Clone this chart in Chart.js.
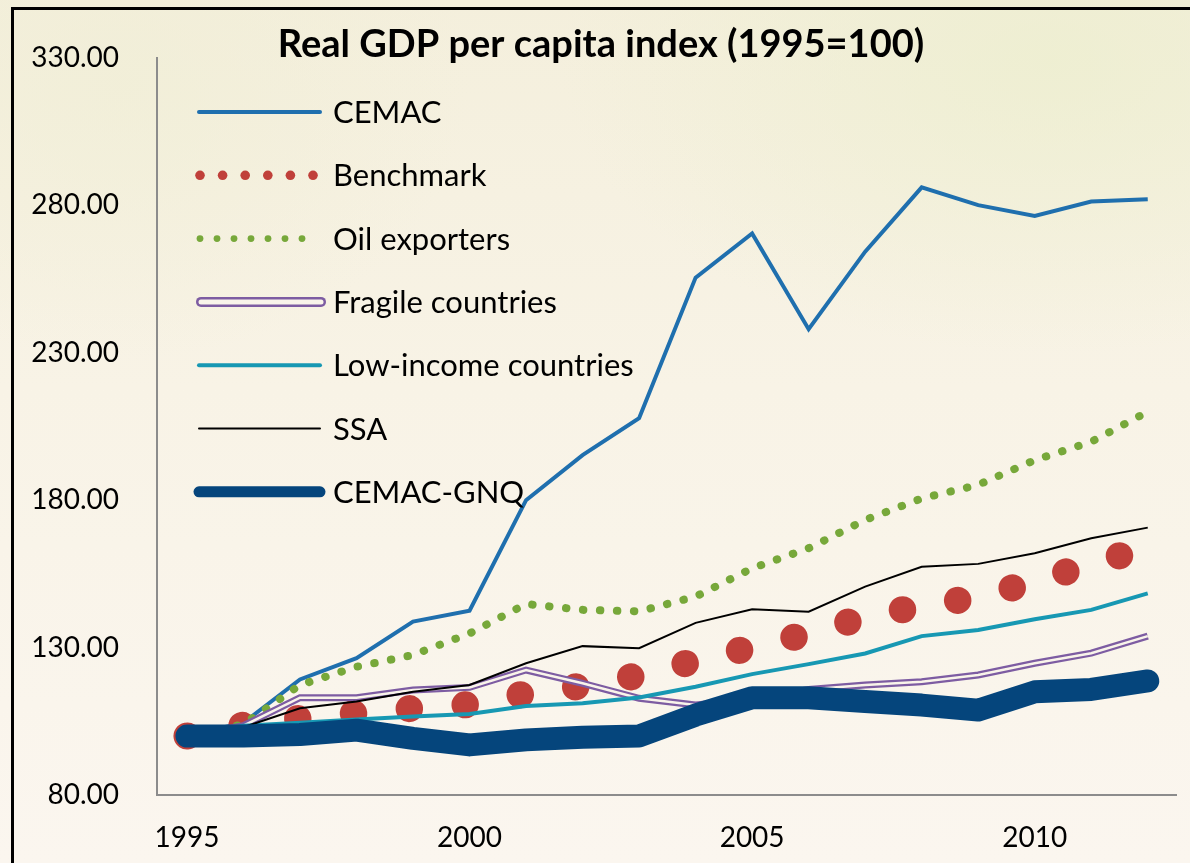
<!DOCTYPE html>
<html>
<head>
<meta charset="utf-8">
<script src="https://cdn.jsdelivr.net/npm/chart.js@4.4.1/dist/chart.umd.min.js"></script>
<style>
  html, body { margin: 0; padding: 0; }
  body {
    width: 1190px; height: 863px; overflow: hidden; position: relative;
    background:
      radial-gradient(ellipse 700px 420px at 1050px 60px, rgba(236, 238, 206, 0.75), rgba(236, 238, 206, 0) 70%),
      radial-gradient(ellipse 500px 400px at 120px 80px, rgba(240, 238, 214, 0.7), rgba(240, 238, 214, 0) 70%),
      linear-gradient(to bottom, #f4efdc 0%, #f8f3e6 45%, #fbf6ef 100%);
  }
  #frame {
    position: absolute; left: 11px; top: 7px; width: 1200px; height: 900px;
    border-left: 3px solid #000; border-top: 3px solid #000;
  }
  canvas { position: absolute; left: 0; top: 0; }
</style>
</head>
<body>
<div id="frame"></div>
<canvas id="gdpChart" width="1190" height="863"></canvas>
<script>
const years = [1995, 1996, 1997, 1998, 1999, 2000, 2001, 2002, 2003,
  2004, 2005, 2006, 2007, 2008, 2009, 2010, 2011, 2012]

const cemac = [100, 104.5, 119.2, 126.4, 138.8, 142.5, 180, 195.3, 207.8,
  255.5, 270.5, 238, 264.3, 286.1, 280.1, 276.4, 281.3, 282.1]
const benchmark = [100, 103.7, 106, 107.8, 109.4, 110.7, 114.4, 117, 120.6,
  125.5, 130.1, 134.7, 140.4, 144.1, 147.1, 152.3, 158.4, 163.9]
const oilExporters = [100, 104, 117.3, 123.5, 127.5, 134.8, 144.8, 142.8, 142.3,
  147.3, 156.9, 163.7, 173.3, 180.6, 185.2, 193.6, 199.8, 210]
const fragile = [100, 103.5, 113, 113, 115.6, 116.5, 122.4, 117.9, 112.8,
  110.5, 112.5, 115.8, 117.3, 118.4, 120.7, 124.7, 128.1, 133.9]
const lowIncome = [100, 103.5, 104.5, 105.6, 106.6, 107.5, 110.2, 111.1, 113.1,
  116.7, 121, 124.4, 128, 133.9, 136, 139.6, 142.8, 148.4]
const ssa = [100, 103, 109.4, 111.7, 115, 117.3, 124.7, 130.5, 129.8,
  138.4, 143, 142.2, 150.7, 157.4, 158.4, 162, 167.1, 170.7]
const cemacGnq = [100, 100, 100.5, 102, 99.2, 97, 98.7, 99.6, 100,
  107.1, 113, 113, 111.7, 110.5, 108.8, 115, 115.8, 118.7]

const xTicks = [1995, 2000, 2005, 2010]
const yTicks = [80, 130, 180, 230, 280, 330]

const FONT = 'Lato, "Open Sans", sans-serif'
const CREAM = '#f9f4ea'

function pts(values) {
  return values.map((v, i) => ({ x: years[i], y: v }))
}

// title + legend drawn straight on the canvas, Excel style
const decor = {
  id: 'decor',
  afterDraw(chart) {
    const ctx = chart.ctx
    ctx.save()
    ctx.fillStyle = '#000'
    ctx.textBaseline = 'middle'
    ctx.textAlign = 'center'
    ctx.font = 'bold 38px ' + FONT
    ctx.fillText('Real GDP per capita index (1995=100)', 601, 45)

    ctx.textAlign = 'left'
    ctx.font = '31px ' + FONT
    let row = 0
    chart.data.datasets.forEach((ds) => {
      if (!ds.sample) return
      const y = 112 + row * 63.3
      const x0 = 199
      const x1 = 320
      ctx.setLineDash([])
      ctx.lineCap = 'round'
      if (ds.sample === 'line') {
        ctx.strokeStyle = ds.borderColor
        ctx.lineWidth = ds.legendWidth
        ctx.beginPath()
        ctx.moveTo(x0, y)
        ctx.lineTo(x1, y)
        ctx.stroke()
      } else if (ds.sample === 'dots') {
        ctx.fillStyle = ds.borderColor
        for (let i = 0; i < ds.dotCount; i++) {
          ctx.beginPath()
          ctx.arc(x0 + 1 + i * ds.dotGap, y, ds.dotRadius, 0, Math.PI * 2)
          ctx.fill()
        }
      } else if (ds.sample === 'double') {
        ctx.strokeStyle = ds.borderColor
        ctx.lineWidth = 10
        ctx.beginPath()
        ctx.moveTo(x0 + 2, y)
        ctx.lineTo(x1 + 1, y)
        ctx.stroke()
        ctx.strokeStyle = CREAM
        ctx.lineWidth = 5
        ctx.beginPath()
        ctx.moveTo(x0 + 2, y)
        ctx.lineTo(x1 + 1, y)
        ctx.stroke()
      }
      ctx.fillStyle = '#000'
      ctx.fillText(ds.label, 333, y + 1)
      row++
    })
    ctx.restore()
  }
}

const ctx = document.getElementById('gdpChart')

new Chart(ctx, {
  type: 'line',
  data: {
    datasets: [
      {
        label: 'CEMAC',
        data: pts(cemac),
        borderColor: '#1f6fae',
        borderWidth: 4,
        order: 70,
        sample: 'line',
        legendWidth: 4
      },
      {
        label: 'Benchmark',
        data: pts(benchmark),
        borderColor: '#c0403a',
        borderWidth: 27,
        borderDash: [0.5, 55.5],
        borderCapStyle: 'round',
        order: 60,
        sample: 'dots',
        dotCount: 6,
        dotRadius: 4.8,
        dotGap: 22.6
      },
      {
        label: 'Oil exporters',
        data: pts(oilExporters),
        borderColor: '#77a83a',
        borderWidth: 8,
        borderDash: [0.5, 16.5],
        borderCapStyle: 'round',
        order: 50,
        sample: 'dots',
        dotCount: 7,
        dotRadius: 3.4,
        dotGap: 17
      },
      {
        label: 'Fragile countries',
        data: pts(fragile),
        borderColor: '#7d5ca2',
        borderWidth: 7,
        order: 41,
        sample: 'double'
      },
      {
        // inner stroke that makes the fragile line look hollow
        label: 'Fragile inner',
        data: pts(fragile),
        borderColor: CREAM,
        borderWidth: 2.5,
        order: 40
      },
      {
        label: 'Low-income countries',
        data: pts(lowIncome),
        borderColor: '#1798b3',
        borderWidth: 4,
        order: 30,
        sample: 'line',
        legendWidth: 4
      },
      {
        label: 'SSA',
        data: pts(ssa),
        borderColor: '#000000',
        borderWidth: 2,
        order: 20,
        sample: 'line',
        legendWidth: 2
      },
      {
        label: 'CEMAC-GNQ',
        data: pts(cemacGnq),
        borderColor: '#05457c',
        borderWidth: 23,
        borderJoinStyle: 'round',
        borderCapStyle: 'round',
        order: 10,
        sample: 'line',
        legendWidth: 11
      }
    ]
  },
  options: {
    responsive: false,
    animation: false,
    layout: {
      padding: { left: 0, top: 58, right: 14, bottom: 0 }
    },
    elements: {
      point: { radius: 0, hoverRadius: 0 },
      line: { tension: 0, fill: false }
    },
    plugins: {
      legend: { display: false },
      title: { display: false },
      tooltip: { enabled: false }
    },
    scales: {
      x: {
        type: 'linear',
        min: 1994.47,
        max: 2012.5,
        afterBuildTicks: function (scale) {
          scale.ticks = xTicks.map((v) => ({ value: v }))
        },
        grid: { display: false, drawTicks: false },
        border: { display: true, color: '#8c8c8c', width: 2 },
        ticks: {
          autoSkip: false,
          maxRotation: 0,
          padding: 26,
          color: '#000',
          font: { family: FONT, size: 28 },
          callback: (v) => String(v)
        },
        afterFit: function (scale) {
          scale.height = 68
        }
      },
      y: {
        min: yTicks[0],
        max: yTicks[yTicks.length - 1],
        afterBuildTicks: function (scale) {
          scale.ticks = yTicks.map((v) => ({ value: v }))
        },
        grid: { display: false, drawTicks: false },
        border: { display: true, color: '#8c8c8c', width: 2 },
        ticks: {
          padding: 38,
          color: '#000',
          font: { family: FONT, size: 28 },
          callback: (v) => Number(v).toFixed(2)
        },
        afterFit: function (scale) {
          scale.width = 157
        }
      }
    }
  },
  plugins: [decor]
})
</script>
</body>
</html>
